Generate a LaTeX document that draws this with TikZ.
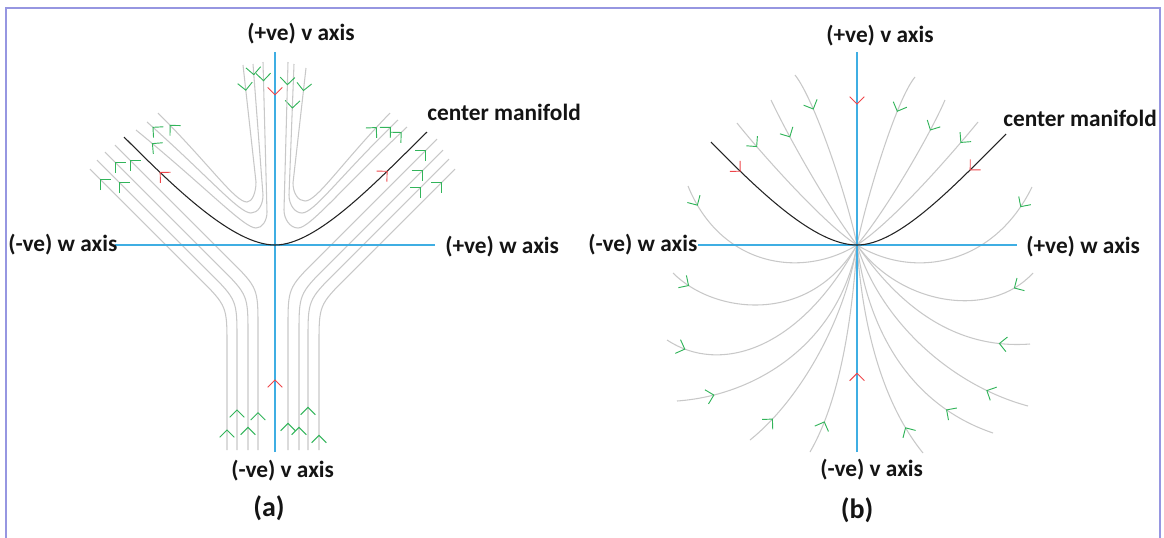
\documentclass[tikz,border=0pt]{standalone}
\usepackage{fontspec}
\setmainfont{Carlito}
\usetikzlibrary{decorations.markings}

\definecolor{axisblue}{RGB}{63,174,227}
\definecolor{flowgray}{RGB}{200,200,200}
\definecolor{mangray}{RGB}{35,35,35}
\definecolor{tipgreen}{RGB}{50,180,90}
\definecolor{tipred}{RGB}{238,70,75}
\definecolor{framecol}{RGB}{150,150,225}
\definecolor{labeltext}{RGB}{20,20,20}

\tikzset{
  lbl/.style={font=\bfseries\fontsize{17.5}{20}\selectfont, text=labeltext, inner sep=0pt, anchor=west},
  capt/.style={font=\bfseries\fontsize{21}{25}\selectfont, text=labeltext, inner sep=0pt},
  axisline/.style={draw=axisblue, line width=1.1pt},
  flow/.style={draw=flowgray, line width=0.8pt},
  cmline/.style={draw=mangray, line width=0.8pt},
  chev/.style={line width=0.7pt},
  gtip/.style={postaction={decorate, decoration={markings, mark=at position #1 with {\draw[chev, tipgreen] (-5.5pt,5.5pt) -- (0pt,0pt) -- (-5.5pt,-5.5pt);}}}},
  rtip/.style={postaction={decorate, decoration={markings, mark=at position #1 with {\draw[chev, tipred] (-5.5pt,5.5pt) -- (0pt,0pt) -- (-5.5pt,-5.5pt);}}}}
}

\begin{document}
\begin{tikzpicture}[x=0.75pt, y=-0.75pt]
\useasboundingbox (0,0) rectangle (1164,537);
\draw[framecol, line width=1.5pt] (6,540) -- (6,8) -- (1160,8) -- (1160,540);

% ---------- (a) ----------
\coordinate (oA) at (275,245);
\coordinate (vtA) at (275,52);
\coordinate (vbA) at (275,452);
\coordinate (wlA) at (115,245);
\coordinate (wrA) at (435,245);
\coordinate (cmlA) at (124,137);
\coordinate (cmrA) at (427,132);

% upper family: down along v, then out along the manifold
\draw[flow, gtip=19pt, gtip=-13pt] (243,65) -- (256,182) .. controls (256,193) and (252,202) .. (247,202) .. controls (235,202) and (211,166) .. (158,113);
\draw[flow, gtip=8pt, gtip=-6pt] (253,64) -- (263,195) .. controls (263,205) and (258,213) .. (251,213) .. controls (239,213) and (209,177) .. (147,122);
\draw[flow, gtip=14pt, gtip=-16pt] (263,62) -- (267,212) .. controls (267,221) and (262,228) .. (256,228) .. controls (244,228) and (208,189) .. (136,130);
\draw[flow, gtip=17pt, gtip=-15pt] (306,68) -- (293,183) .. controls (293,193) and (298,201) .. (305,201) .. controls (317,201) and (339,166) .. (390,113);
\draw[flow, gtip=33pt, gtip=-8pt] (294,64) -- (289,195) .. controls (289,205) and (295,213) .. (302,213) .. controls (314,213) and (340,176) .. (398,120);
\draw[flow, gtip=17pt, gtip=-6pt] (288,62) -- (284,210) .. controls (284,219) and (290,228) .. (298,228) .. controls (310,228) and (342,188) .. (407,127);

% lower family: up along v, then out along the manifold
\draw[flow, gtip=28pt, gtip=-16pt] (258,450) -- (258,328) .. controls (258,288) .. (229.7,259.7) -- (115,145);
\draw[flow, gtip=17pt, gtip=-11pt] (248,450) -- (248,335) .. controls (248,295) .. (219.7,266.7) -- (105,152);
\draw[flow, gtip=30pt, gtip=-24pt] (237,450) -- (237,340) .. controls (237,300) .. (208.7,271.7) -- (97,160);
\draw[flow, gtip=15pt, gtip=-11pt] (227,450) -- (227,346) .. controls (227,306) .. (198.7,277.7) -- (90,169);
\draw[flow, gtip=20pt, gtip=-12pt] (288,450) -- (288,328) .. controls (288,288) .. (316.3,259.7) -- (437,139);
\draw[flow, gtip=17pt, gtip=-22pt] (299,450) -- (299,334) .. controls (299,294) .. (327.3,265.7) -- (443,150);
\draw[flow, gtip=32pt, gtip=-30pt] (308,450) -- (308,340) .. controls (308,300) .. (336.3,271.7) -- (449,159);
\draw[flow, gtip=11pt, gtip=-14pt] (319,450) -- (319,345) .. controls (319,305) .. (347.3,276.7) -- (455,169);

\draw[axisline, rtip=32pt] (vtA) -- (oA);
\draw[axisline, rtip=54pt] (vbA) -- (oA);
\draw[axisline] (wlA) -- (wrA);
\draw[cmline, rtip=-38pt] (oA) .. controls (233,245) and (174,187) .. (cmlA);
\draw[cmline, rtip=-42pt] (oA) .. controls (317,245) and (376,182) .. (cmrA);

\node[lbl] (vposA) at (247,34) {(+ve) v axis};
\node[lbl] (wnegA) at (8,245) {(-ve) w axis};
\node[lbl] (wposA) at (445,247) {(+ve) w axis};
\node[lbl] (vnegA) at (231,471) {(-ve) v axis};
\node[lbl] (cmtA) at (427,112) {center manifold};
\node[capt] (capA) at (269,508) {(a)};

% ---------- (b) ----------
\coordinate (oB) at (857,245);
\coordinate (vtB) at (857,52);
\coordinate (vbB) at (857,452);
\coordinate (wlB) at (698,245);
\coordinate (wrB) at (1017,245);
\coordinate (cmlB) at (711,142);
\coordinate (cmrB) at (1006,134);

% trajectories entering from above
\draw[flow, gtip=29pt] (795,75) .. controls (815,100) and (848,200) .. (oB);
\draw[flow, gtip=29pt] (915,77) .. controls (896,100) and (866,200) .. (oB);
\draw[flow, gtip=31pt] (771,100) .. controls (790,140) and (830,210) .. (oB);
\draw[flow, gtip=25pt] (945,100) .. controls (930,135) and (885,212) .. (oB);
\draw[flow, gtip=23pt] (737,123) .. controls (760,152) and (825,225) .. (oB);
\draw[flow, gtip=20pt] (978,122) .. controls (955,150) and (895,220) .. (oB);
\draw[flow, gtip=16pt] (688,186) .. controls (720,265) and (800,280) .. (oB);
\draw[flow, gtip=17pt] (1032,187) .. controls (994,265) and (914,280) .. (oB);

% trajectories entering from below
\draw[flow, gtip=15pt] (673,273) .. controls (715,315) and (810,325) .. (oB);
\draw[flow, gtip=15pt] (667,340) .. controls (720,375) and (800,350) .. (oB);
\draw[flow, gtip=28pt] (677,401) .. controls (760,395) and (840,340) .. (oB);
\draw[flow, gtip=23pt] (750,440) .. controls (800,400) and (845,320) .. (oB);
\draw[flow, gtip=25pt] (810,452) .. controls (840,400) and (852,320) .. (oB);
\draw[flow, gtip=23pt] (923,453) .. controls (880,400) and (862,320) .. (oB);
\draw[flow, gtip=39pt] (993,433) .. controls (910,405) and (868,330) .. (oB);
\draw[flow, gtip=33pt] (1028,406) .. controls (950,385) and (880,320) .. (oB);
\draw[flow, gtip=23pt] (1030,344) .. controls (950,350) and (895,300) .. (oB);
\draw[flow, gtip=18pt] (1033,273) .. controls (990,320) and (900,305) .. (oB);

\draw[axisline, rtip=39pt] (vtB) -- (oB);
\draw[axisline, rtip=59pt] (vbB) -- (oB);
\draw[axisline] (wlB) -- (wrB);
\draw[cmline, rtip=31pt] (cmlB) .. controls (760,192) and (815,245) .. (oB);
\draw[cmline, rtip=38pt] (cmrB) .. controls (955,185) and (899,245) .. (oB);

\node[lbl] (vposB) at (826,36) {(+ve) v axis};
\node[lbl] (wnegB) at (588,245) {(-ve) w axis};
\node[lbl] (wposB) at (1026,247) {(+ve) w axis};
\node[lbl] (vnegB) at (820,470) {(-ve) v axis};
\node[lbl] (cmtB) at (1003,118) {center manifold};
\node[capt] (capB) at (857,510) {(b)};
\end{tikzpicture}
\end{document}
